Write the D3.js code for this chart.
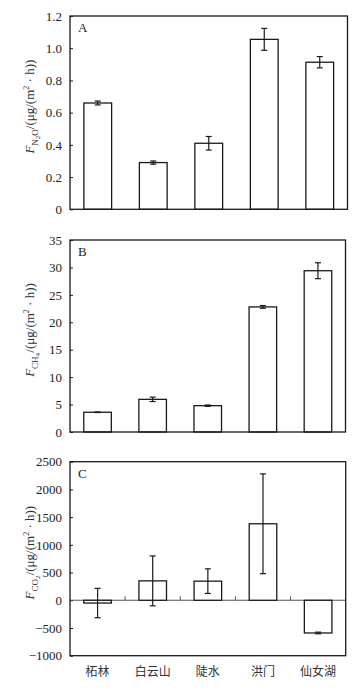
<!DOCTYPE html>
<html><head><meta charset="utf-8">
<script src="https://cdn.jsdelivr.net/npm/d3@7"></script>
<style>body{margin:0;background:#fff}svg{display:block}</style>
</head><body>
<script>
const categories = ["柘林", "白云山", "陡水", "洪门", "仙女湖"];
const n2oValues = [0.66, 0.29, 0.41, 1.055, 0.913];
const n2oErrors = [0.012, 0.01, 0.042, 0.068, 0.035];
const ch4Values = [3.6, 5.95, 4.8, 22.8, 29.4];
const ch4Errors = [0.05, 0.4, 0.12, 0.25, 1.45];
const co2Values = [-50, 350, 345, 1380, -590];
const co2Errors = [265, 450, 222, 900, 15];
const n2oTicks = [0, 0.2, 0.4, 0.6, 0.8, 1.0, 1.2];
const ch4Ticks = [0, 5, 10, 15, 20, 25, 30, 35];
const co2Ticks = [-1000, -500, 0, 500, 1000, 1500, 2000, 2500];

const W = 357, H = 694;
const svg = d3.select("body").append("svg").attr("width", W).attr("height", H);
const ink = "#1a1a1a";
const serif = "'Liberation Serif','DejaVu Serif',serif";

const panels = [
  {letter:"A", vals:n2oValues, errs:n2oErrors, ticks:n2oTicks, domain:[0,1.2], fmt:d=>d===0?"0":d3.format(".1f")(d),
   top:16, bottom:209.3, left:70, right:347.5, sub:["N","2","O"], showCats:false, zeroLine:false},
  {letter:"B", vals:ch4Values, errs:ch4Errors, ticks:ch4Ticks, domain:[0,35], fmt:d3.format("d"),
   top:240, bottom:432, left:70, right:345.5, sub:["CH","4",""], showCats:false, zeroLine:false},
  {letter:"C", vals:co2Values, errs:co2Errors, ticks:co2Ticks, domain:[-1000,2500], fmt:d=>d<0?"\u2212"+Math.abs(d):String(d),
   top:461.7, bottom:655.7, left:70, right:345.7, sub:["CO","2",""], showCats:true, zeroLine:true}
];

panels.forEach(p => {
  const g = svg.append("g");
  const x = d3.scaleBand().domain(categories).range([p.left, p.right]).paddingInner(0.5).paddingOuter(0.25);
  const y = d3.scaleLinear().domain(p.domain).range([p.bottom, p.top]);

  // y axis
  const ax = g.append("g").attr("transform", `translate(${p.left},0)`)
    .call(d3.axisLeft(y).tickValues(p.ticks).tickFormat(p.fmt).tickSizeInner(-3).tickSizeOuter(0).tickPadding(8));
  ax.select(".domain").remove();
  ax.selectAll(".tick line").attr("stroke", ink).attr("stroke-width", 1);
  ax.selectAll(".tick text").attr("font-family", serif).attr("font-size", 13).attr("fill", "#222");

  // zero line
  if (p.zeroLine) {
    g.append("line").attr("x1", p.left).attr("x2", p.right).attr("y1", y(0)).attr("y2", y(0))
      .attr("stroke", "#555").attr("stroke-width", 1.2);
    const step = x.step();
    for (let k = 1; k < categories.length; k++) {
      const xx = p.left + step * k;
      g.append("line").attr("x1", xx).attr("x2", xx).attr("y1", y(0)).attr("y2", y(0) - 4)
        .attr("stroke", "#555").attr("stroke-width", 1);
    }
  }

  // bars
  const data = categories.map((c, i) => ({c, v: p.vals[i], e: p.errs[i]}));
  g.selectAll("rect.bar").data(data).join("rect").attr("class", "bar")
    .attr("x", d => x(d.c)).attr("width", x.bandwidth())
    .attr("y", d => y(Math.max(0, d.v))).attr("height", d => Math.abs(y(d.v) - y(0)))
    .attr("fill", "#fff").attr("stroke", ink).attr("stroke-width", 1.3);

  // error bars
  const eg = g.selectAll("g.err").data(data).join("g").attr("class", "err");
  const cx = d => x(d.c) + x.bandwidth() / 2;
  eg.append("line").attr("x1", cx).attr("x2", cx).attr("y1", d => y(d.v + d.e)).attr("y2", d => y(d.v - d.e))
    .attr("stroke", ink).attr("stroke-width", 1.2);
  [1, -1].forEach(s => {
    eg.append("line").attr("x1", d => cx(d) - 3).attr("x2", d => cx(d) + 3)
      .attr("y1", d => y(d.v + s * d.e)).attr("y2", d => y(d.v + s * d.e))
      .attr("stroke", ink).attr("stroke-width", 1.2);
  });

  // frame
  g.append("rect").attr("x", p.left).attr("y", p.top).attr("width", p.right - p.left).attr("height", p.bottom - p.top)
    .attr("fill", "none").attr("stroke", ink).attr("stroke-width", 1.3);

  // letter
  g.append("text").attr("x", p.left + 8).attr("y", p.top + 16).text(p.letter)
    .attr("font-family", serif).attr("font-size", 13).attr("fill", "#222");

  // y title
  const cy = (p.top + p.bottom) / 2 - 6;
  const t = g.append("text").attr("transform", `translate(34,${cy}) rotate(-90)`)
    .attr("text-anchor", "middle").attr("font-family", serif).attr("font-size", 13).attr("fill", "#333");
  t.append("tspan").attr("font-style", "italic").text("F");
  t.append("tspan").attr("font-size", 9).attr("dy", 4).text(p.sub[0]);
  if (p.sub[2]) {
    t.append("tspan").attr("font-size", 7).attr("dy", 2).text(p.sub[1]);
    t.append("tspan").attr("font-size", 9).attr("dy", -2).text(p.sub[2]);
  } else {
    t.append("tspan").attr("font-size", 7).attr("dy", 2).text(p.sub[1]);
    t.append("tspan").attr("font-size", 1).attr("dy", -2).text(" ");
  }
  t.append("tspan").attr("dy", -4).text("/(μg/(m");
  t.append("tspan").attr("font-size", 8).attr("dy", -5).text("2");
  t.append("tspan").attr("dy", 5).text(" · h))");

  if (p.showCats) {
    g.selectAll("text.cat").data(categories).join("text").attr("class", "cat")
      .attr("x", d => x(d) + x.bandwidth() / 2).attr("y", p.bottom + 20)
      .attr("text-anchor", "middle").attr("font-family", "'Noto Sans CJK SC',sans-serif")
      .attr("font-size", 12).attr("fill", "#333").text(d => d);
  }
});
</script>
</body></html>
